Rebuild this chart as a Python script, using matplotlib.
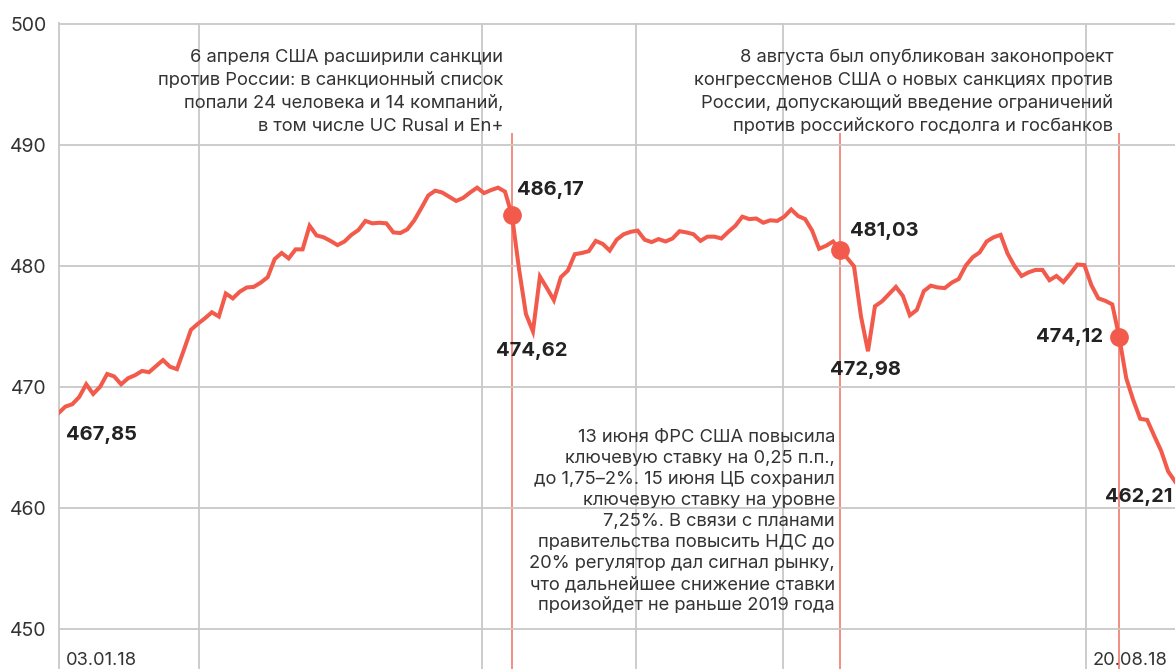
import matplotlib
matplotlib.use("Agg")
import matplotlib.pyplot as plt
import numpy as np

# ---------------- data ----------------
values = [
    467.85, 468.4, 468.6, 469.2, 470.25, 469.45, 470.05, 471.1, 470.9, 470.25,
    470.75, 471.0, 471.35, 471.25, 471.75, 472.25, 471.7, 471.5, 473.1, 474.75,
    475.25, 475.7, 476.2, 475.85, 477.75, 477.35, 477.9, 478.25, 478.3, 478.65,
    479.1, 480.6, 481.1, 480.65, 481.4, 481.4, 483.35, 482.55, 482.4, 482.1,
    481.75, 482.05, 482.6, 483.0, 483.75, 483.55, 483.6, 483.55, 482.8, 482.75,
    483.05, 483.8, 484.8, 485.85, 486.25, 486.1, 485.75, 485.4, 485.65, 486.1,
    486.5, 486.05, 486.3, 486.5, 486.17, 484.2, 479.8, 476.05, 474.62, 479.15,
    478.2, 477.2, 479.1, 479.65, 481.0, 481.1, 481.25, 482.1, 481.85, 481.3,
    482.2, 482.65, 482.85, 482.95, 482.2, 482.0, 482.25, 482.05, 482.3, 482.9,
    482.8, 482.65, 482.1, 482.45, 482.45, 482.3, 482.85, 483.35, 484.1, 483.9,
    483.95, 483.6, 483.8, 483.75, 484.1, 484.7, 484.15, 483.9, 482.95, 481.45,
    481.7, 482.05, 481.35, 480.7, 480.0, 475.85, 472.98, 476.7, 477.1, 477.7,
    478.3, 477.55, 475.95, 476.4, 477.95, 478.4, 478.25, 478.2, 478.65, 478.95,
    480.05, 480.75, 481.15, 482.05, 482.4, 482.6, 481.05, 480.0, 479.2, 479.5,
    479.7, 479.7, 478.85, 479.2, 478.7, 479.4, 480.15, 480.1, 478.45, 477.35,
    477.15, 476.85, 474.12, 470.75, 468.95, 467.4, 467.3, 466.0, 464.75, 463.05,
    462.21,
]
event_idx = [65, 112, 152]            # trading-day index of the marked events
grid_x = [20.2, 60.7, 82.8, 103.8, 147.2]
y_ticks = [450, 460, 470, 480, 490, 500]
date_labels = ["03.01.18", "20.08.18"]

ann_left = ["6 апреля США расширили санкции",
            "против России: в санкционный список",
            "попали 24 человека и 14 компаний,",
            "в том числе UC Rusal и En+"]
ann_right = ["8 августа был опубликован законопроект",
             "конгрессменов США о новых санкциях против",
             "России, допускающий введение ограничений",
             "против российского госдолга и госбанков"]
ann_bottom = ["13 июня ФРС США повысила",
              "ключевую ставку на 0,25 п.п.,",
              "до 1,75–2%. 15 июня ЦБ сохранил",
              "ключевую ставку на уровне",
              "7,25%. В связи с планами",
              "правительства повысить НДС до",
              "20% регулятор дал сигнал рынку,",
              "что дальнейшее снижение ставки",
              "произойдет не раньше 2019 года"]

# ---------------- style ----------------
plt.rcParams['font.family'] = ['Inter', 'DejaVu Sans']
LINE = "#f25a4b"
EVENT = "#f2857a"
GRID = "#c8c8c8"
TXT = "#333333"
BOLD = "#222222"

W, H = 1175, 669
fig = plt.figure(figsize=(W / 100, H / 100), dpi=100)

# pixel geometry of the plot region
x0_px, step_px = 58.3, 6.98
y500_px, px_per_unit = 24.3, 12.1
n = len(values)
xmin = (59.3 - x0_px) / step_px
xmax = (W - x0_px) / step_px
ymax = 500 + 0.1
ymin = 500 - (H - y500_px) / px_per_unit
top_px = y500_px - 0.1 * px_per_unit
ax = fig.add_axes([59.3 / W, 0, 1 - 59.3 / W, 1 - top_px / H])
ax.set_xlim(xmin, xmax)
ax.set_ylim(ymin, ymax)


def X(px):
    return (px - x0_px) / step_px


def Y(py):
    return 500 - (py - y500_px) / px_per_unit


x = np.arange(n)
ax.set_yticks(y_ticks)
ax.set_yticklabels([str(v) for v in y_ticks], fontsize=14, color=TXT)
ax.set_xticks(grid_x)
ax.set_xticklabels([])
ax.tick_params(length=0, pad=9)
ax.grid(True, color=GRID, lw=1.3, zorder=0)
for s in ["top", "right", "bottom"]:
    ax.spines[s].set_visible(False)
ax.spines["left"].set_color(GRID)
ax.spines["left"].set_linewidth(1.3)

for e in event_idx:
    ax.vlines(e, ymin, Y(133), color=EVENT, lw=1.3, zorder=1)

ax.plot(x, values, color=LINE, lw=2.9, solid_joinstyle="miter", zorder=3)
ev_y = np.interp(event_idx, x, values)
ax.plot(event_idx, ev_y, "o", color=LINE, ms=13.5, mec="none", zorder=4)

# annotations
FS = 13.2
for i, s in enumerate(ann_left):
    ax.text(X(503), Y(57 + 23 * i), s, ha="right", va="center", fontsize=FS, color=TXT)
for i, s in enumerate(ann_right):
    ax.text(X(1113), Y(57 + 23 * i), s, ha="right", va="center", fontsize=FS, color=TXT)
for i, s in enumerate(ann_bottom):
    ax.text(X(835), Y(437 + 21.1 * i), s, ha="right", va="center", fontsize=FS, color=TXT)

bold_labels = [
    ("467,85", 66, 435, "left"),
    ("486,17", 517, 190, "left"),
    ("474,62", 496, 351, "left"),
    ("481,03", 850, 231, "left"),
    ("472,98", 830, 370, "left"),
    ("474,12", 1103, 337, "right"),
    ("462,21", 1172, 497, "right"),
]
for s, px, py, ha in bold_labels:
    ax.text(X(px), Y(py), s, ha=ha, va="center", fontsize=14.5,
            fontweight="bold", color=BOLD, zorder=5)

ax.text(X(66), Y(660), date_labels[0], ha="left", va="center", fontsize=FS, color=TXT)
ax.text(X(1168), Y(660), date_labels[1], ha="right", va="center", fontsize=FS, color=TXT)

fig.savefig("out.png", dpi=100)
